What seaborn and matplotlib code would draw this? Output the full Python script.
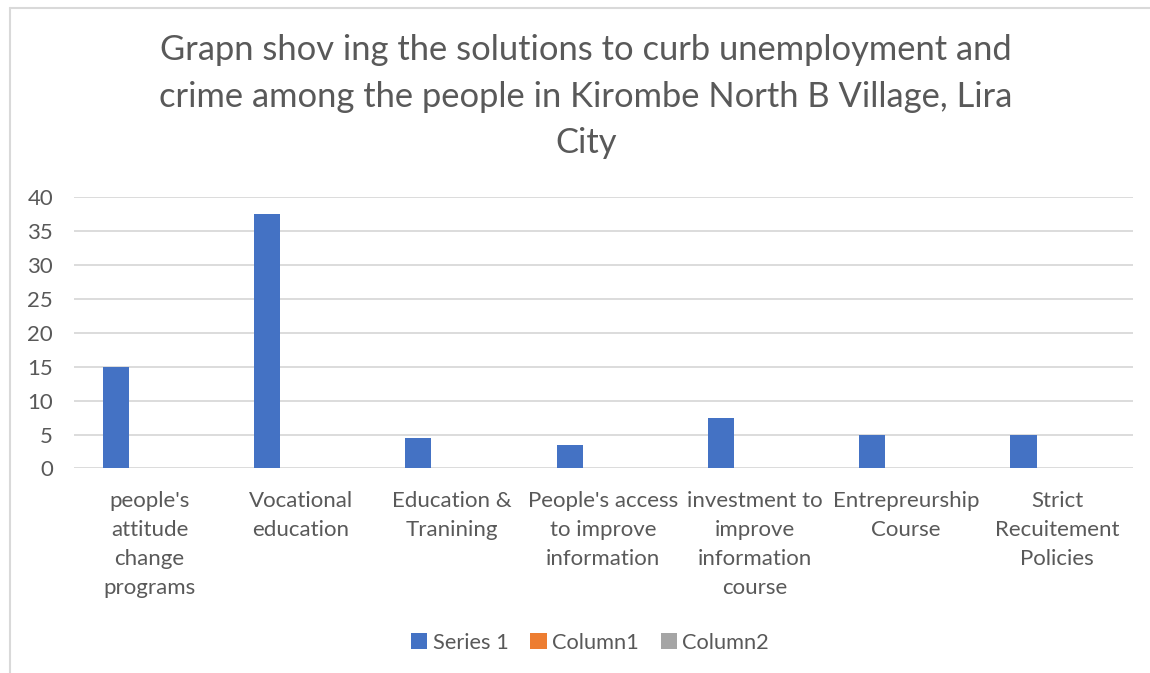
import matplotlib
matplotlib.use("Agg")
import matplotlib.pyplot as plt
from matplotlib.lines import Line2D
import numpy as np
import pandas as pd
import seaborn as sns

categories = [
    "people's\nattitude\nchange\nprograms",
    "Vocational\neducation",
    "Education &\nTranining",
    "People's access\nto improve\ninformation",
    "investment to\nimprove\ninformation\ncourse",
    "Entrepreurship\nCourse",
    "Strict\nRecuitement\nPolicies",
]
series_names = ["Series 1", "Column1", "Column2"]
series_1 = [15, 37.5, 4.5, 3.5, 7.5, 5, 5]
column_1 = [0, 0, 0, 0, 0, 0, 0]
column_2 = [0, 0, 0, 0, 0, 0, 0]
y_ticks = [0, 5, 10, 15, 20, 25, 30, 35, 40]
title = ("Grapn shov ing the solutions to curb unemployment and\n"
         "crime among the people in Kirombe North B Village, Lira\nCity")

colors = ["#4472C4", "#ED7D31", "#A5A5A5"]
text_color = "#595959"
grid_color = "#D9D9D9"

df = pd.DataFrame({
    "category": categories * 3,
    "series": [s for s in series_names for _ in categories],
    "value": series_1 + column_1 + column_2,
})

sns.set_theme(style="white")
plt.rcParams["font.family"] = ["Lato", "DejaVu Sans"]

fig = plt.figure(figsize=(11.5, 6.73), dpi=100)
ax = fig.add_axes([0.0643, 0.304, 0.9207, 0.4026])

sns.barplot(data=df, x="category", y="value", hue="series", order=categories,
            hue_order=series_names, palette=colors, width=0.667, gap=0.225,
            saturation=1, edgecolor="none", linewidth=0, ax=ax, legend=True)

ax.set_ylim(0, 40)
ax.set_xlim(-0.5, len(categories) - 0.5)
ax.set_yticks(y_ticks)
ax.yaxis.grid(True, color=grid_color, linewidth=1.3)
ax.set_axisbelow(True)
for s in ax.spines.values():
    s.set_visible(False)
ax.tick_params(axis="both", length=0, labelsize=16, labelcolor=text_color)
ax.tick_params(axis="y", pad=15)
ax.tick_params(axis="x", pad=16)
plt.setp(ax.get_xticklabels(), linespacing=1.57)
ax.set_xlabel("")
ax.set_ylabel("")

fig.text(0.5095, 0.949, title, ha="center", va="top", fontsize=24.8,
         color=text_color, linespacing=1.55)

handles, labels = ax.get_legend_handles_labels()
ax.legend(handles, labels, loc="center", bbox_to_anchor=(0.513, 0.045),
          bbox_transform=fig.transFigure, ncol=3, frameon=False, fontsize=15.7,
          labelcolor=text_color, handlelength=0.75, handleheight=0.75,
          handletextpad=0.25, columnspacing=1.0)

# chart-area border (top and left edges)
fig.add_artist(Line2D([0.0087, 1.0], [0.9888, 0.9888], color=grid_color,
                      linewidth=1.5, transform=fig.transFigure))
fig.add_artist(Line2D([0.0087, 0.0087], [0.0, 0.9888], color=grid_color,
                      linewidth=1.5, transform=fig.transFigure))

fig.savefig("out.png", dpi=100, facecolor="white")
